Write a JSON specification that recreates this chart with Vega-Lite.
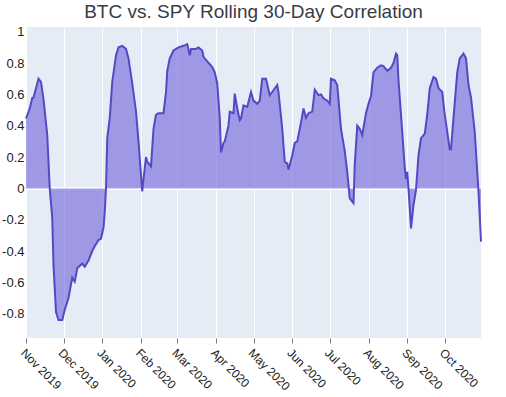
{
  "$schema": "https://vega.github.io/schema/vega-lite/v6.json",
  "width": 455,
  "height": 311,
  "autosize": {"type": "none"},
  "padding": {"left": 26, "top": 27, "right": 25, "bottom": 59},
  "background": "white",
  "title": {"text": "BTC vs. SPY Rolling 30-Day Correlation", "fontSize": 19, "font": "Liberation Sans", "fontWeight": "normal", "color": "#3a3a48", "offset": 4, "anchor": "middle"},
  "config": {
    "view": {"fill": "#E5ECF6", "stroke": null},
    "axis": {"domain": false, "gridColor": "white", "gridWidth": 1, "labelFont": "Liberation Sans", "labelColor": "#222", "title": null, "labelOverlap": false}
  },
  "data": {"values": [
    {"date": "2019-11-01", "corr": 0.446},
    {"date": "2019-11-04", "corr": 0.51},
    {"date": "2019-11-06", "corr": 0.577},
    {"date": "2019-11-07", "corr": 0.58},
    {"date": "2019-11-10", "corr": 0.67},
    {"date": "2019-11-11", "corr": 0.70},
    {"date": "2019-11-13", "corr": 0.68},
    {"date": "2019-11-15", "corr": 0.57},
    {"date": "2019-11-18", "corr": 0.34},
    {"date": "2019-11-20", "corr": 0.0},
    {"date": "2019-11-22", "corr": -0.19},
    {"date": "2019-11-23", "corr": -0.49},
    {"date": "2019-11-25", "corr": -0.79},
    {"date": "2019-11-27", "corr": -0.84},
    {"date": "2019-11-30", "corr": -0.84},
    {"date": "2019-12-02", "corr": -0.775},
    {"date": "2019-12-05", "corr": -0.70},
    {"date": "2019-12-08", "corr": -0.57},
    {"date": "2019-12-10", "corr": -0.595},
    {"date": "2019-12-12", "corr": -0.51},
    {"date": "2019-12-16", "corr": -0.48},
    {"date": "2019-12-18", "corr": -0.50},
    {"date": "2019-12-21", "corr": -0.46},
    {"date": "2019-12-24", "corr": -0.40},
    {"date": "2019-12-26", "corr": -0.37},
    {"date": "2019-12-29", "corr": -0.33},
    {"date": "2019-12-31", "corr": -0.32},
    {"date": "2020-01-02", "corr": -0.25},
    {"date": "2020-01-03", "corr": -0.15},
    {"date": "2020-01-04", "corr": 0.0},
    {"date": "2020-01-05", "corr": 0.32},
    {"date": "2020-01-07", "corr": 0.45},
    {"date": "2020-01-09", "corr": 0.68},
    {"date": "2020-01-12", "corr": 0.85},
    {"date": "2020-01-14", "corr": 0.90},
    {"date": "2020-01-17", "corr": 0.91},
    {"date": "2020-01-20", "corr": 0.89},
    {"date": "2020-01-22", "corr": 0.83},
    {"date": "2020-01-25", "corr": 0.67},
    {"date": "2020-01-28", "corr": 0.49},
    {"date": "2020-01-30", "corr": 0.30},
    {"date": "2020-02-02", "corr": -0.02},
    {"date": "2020-02-03", "corr": 0.06},
    {"date": "2020-02-05", "corr": 0.20},
    {"date": "2020-02-06", "corr": 0.17},
    {"date": "2020-02-09", "corr": 0.14},
    {"date": "2020-02-11", "corr": 0.38},
    {"date": "2020-02-13", "corr": 0.47},
    {"date": "2020-02-15", "corr": 0.48},
    {"date": "2020-02-19", "corr": 0.48},
    {"date": "2020-02-21", "corr": 0.615},
    {"date": "2020-02-22", "corr": 0.75},
    {"date": "2020-02-24", "corr": 0.83},
    {"date": "2020-02-27", "corr": 0.88},
    {"date": "2020-03-02", "corr": 0.90},
    {"date": "2020-03-06", "corr": 0.91},
    {"date": "2020-03-09", "corr": 0.92},
    {"date": "2020-03-11", "corr": 0.85},
    {"date": "2020-03-12", "corr": 0.89},
    {"date": "2020-03-16", "corr": 0.89},
    {"date": "2020-03-18", "corr": 0.90},
    {"date": "2020-03-21", "corr": 0.88},
    {"date": "2020-03-22", "corr": 0.84},
    {"date": "2020-03-25", "corr": 0.81},
    {"date": "2020-03-29", "corr": 0.775},
    {"date": "2020-03-31", "corr": 0.74},
    {"date": "2020-04-02", "corr": 0.67},
    {"date": "2020-04-04", "corr": 0.45},
    {"date": "2020-04-05", "corr": 0.23},
    {"date": "2020-04-07", "corr": 0.29},
    {"date": "2020-04-08", "corr": 0.30},
    {"date": "2020-04-11", "corr": 0.40},
    {"date": "2020-04-12", "corr": 0.49},
    {"date": "2020-04-15", "corr": 0.48},
    {"date": "2020-04-16", "corr": 0.605},
    {"date": "2020-04-18", "corr": 0.51},
    {"date": "2020-04-20", "corr": 0.435},
    {"date": "2020-04-21", "corr": 0.446},
    {"date": "2020-04-23", "corr": 0.53},
    {"date": "2020-04-26", "corr": 0.52},
    {"date": "2020-04-29", "corr": 0.615},
    {"date": "2020-05-01", "corr": 0.56},
    {"date": "2020-05-04", "corr": 0.54},
    {"date": "2020-05-06", "corr": 0.56},
    {"date": "2020-05-08", "corr": 0.70},
    {"date": "2020-05-11", "corr": 0.70},
    {"date": "2020-05-14", "corr": 0.595},
    {"date": "2020-05-16", "corr": 0.615},
    {"date": "2020-05-20", "corr": 0.66},
    {"date": "2020-05-21", "corr": 0.615},
    {"date": "2020-05-24", "corr": 0.38},
    {"date": "2020-05-26", "corr": 0.17},
    {"date": "2020-05-28", "corr": 0.16},
    {"date": "2020-05-29", "corr": 0.12},
    {"date": "2020-06-01", "corr": 0.21},
    {"date": "2020-06-03", "corr": 0.29},
    {"date": "2020-06-05", "corr": 0.30},
    {"date": "2020-06-08", "corr": 0.42},
    {"date": "2020-06-10", "corr": 0.51},
    {"date": "2020-06-12", "corr": 0.45},
    {"date": "2020-06-14", "corr": 0.48},
    {"date": "2020-06-17", "corr": 0.49},
    {"date": "2020-06-19", "corr": 0.63},
    {"date": "2020-06-22", "corr": 0.595},
    {"date": "2020-06-24", "corr": 0.60},
    {"date": "2020-06-26", "corr": 0.575},
    {"date": "2020-06-29", "corr": 0.56},
    {"date": "2020-07-01", "corr": 0.54},
    {"date": "2020-07-02", "corr": 0.70},
    {"date": "2020-07-05", "corr": 0.69},
    {"date": "2020-07-07", "corr": 0.66},
    {"date": "2020-07-10", "corr": 0.38},
    {"date": "2020-07-13", "corr": 0.24},
    {"date": "2020-07-15", "corr": 0.105},
    {"date": "2020-07-17", "corr": -0.064},
    {"date": "2020-07-20", "corr": -0.095},
    {"date": "2020-07-21", "corr": 0.15},
    {"date": "2020-07-23", "corr": 0.40},
    {"date": "2020-07-25", "corr": 0.38},
    {"date": "2020-07-27", "corr": 0.34},
    {"date": "2020-07-30", "corr": 0.48},
    {"date": "2020-08-01", "corr": 0.54},
    {"date": "2020-08-03", "corr": 0.59},
    {"date": "2020-08-05", "corr": 0.74},
    {"date": "2020-08-08", "corr": 0.77},
    {"date": "2020-08-11", "corr": 0.785},
    {"date": "2020-08-13", "corr": 0.78},
    {"date": "2020-08-16", "corr": 0.75},
    {"date": "2020-08-19", "corr": 0.77},
    {"date": "2020-08-21", "corr": 0.80},
    {"date": "2020-08-23", "corr": 0.86},
    {"date": "2020-08-24", "corr": 0.85},
    {"date": "2020-08-25", "corr": 0.69},
    {"date": "2020-08-28", "corr": 0.36},
    {"date": "2020-08-30", "corr": 0.13},
    {"date": "2020-08-31", "corr": 0.06},
    {"date": "2020-09-01", "corr": 0.105},
    {"date": "2020-09-02", "corr": 0.0},
    {"date": "2020-09-04", "corr": -0.255},
    {"date": "2020-09-06", "corr": -0.106},
    {"date": "2020-09-08", "corr": -0.01},
    {"date": "2020-09-10", "corr": 0.21},
    {"date": "2020-09-12", "corr": 0.32},
    {"date": "2020-09-15", "corr": 0.35},
    {"date": "2020-09-17", "corr": 0.47},
    {"date": "2020-09-19", "corr": 0.64},
    {"date": "2020-09-22", "corr": 0.71},
    {"date": "2020-09-24", "corr": 0.70},
    {"date": "2020-09-26", "corr": 0.64},
    {"date": "2020-09-29", "corr": 0.615},
    {"date": "2020-10-01", "corr": 0.47},
    {"date": "2020-10-03", "corr": 0.36},
    {"date": "2020-10-05", "corr": 0.25},
    {"date": "2020-10-06", "corr": 0.25},
    {"date": "2020-10-08", "corr": 0.45},
    {"date": "2020-10-11", "corr": 0.74},
    {"date": "2020-10-13", "corr": 0.83},
    {"date": "2020-10-16", "corr": 0.86},
    {"date": "2020-10-18", "corr": 0.83},
    {"date": "2020-10-20", "corr": 0.66},
    {"date": "2020-10-22", "corr": 0.58},
    {"date": "2020-10-25", "corr": 0.36},
    {"date": "2020-10-28", "corr": -0.02},
    {"date": "2020-10-30", "corr": -0.34}
  ]},
  "layer": [
    {
      "mark": {"type": "rule", "color": "white", "strokeWidth": 2},
      "encoding": {
        "y": {
          "datum": 0, "type": "quantitative",
          "scale": {"domain": [-0.955, 1.03], "nice": false, "zero": false},
          "axis": {"values": [-0.8, -0.6, -0.4, -0.2, 0, 0.2, 0.4, 0.6, 0.8, 1], "tickCount": 12, "format": ".1~f", "labelExpr": "replace(datum.label, '\u2212', '-')", "ticks": false, "labelFontSize": 13, "labelPadding": 2, "labelOverlap": false}
        }
      }
    },
    {
      "mark": {"type": "area", "color": "#6F60DB", "opacity": 0.6},
      "encoding": {
        "x": {
          "field": "date", "type": "temporal",
          "scale": {"type": "utc"},
          "axis": {"format": "%b %Y", "tickCount": {"interval": "month", "step": 1}, "labelAngle": 45, "labelAlign": "left", "labelBaseline": "top", "labelFontSize": 12, "labelPadding": 4, "ticks": true, "tickColor": "#777", "tickSize": 5}
        },
        "y": {
          "field": "corr", "type": "quantitative",
          "axis": {"values": [-0.8, -0.6, -0.4, -0.2, 0, 0.2, 0.4, 0.6, 0.8, 1], "tickCount": 12, "format": ".1~f", "labelExpr": "replace(datum.label, '\u2212', '-')", "ticks": false, "labelFontSize": 13, "labelPadding": 2, "labelOverlap": false}
        },
        "y2": {"datum": 0}
      }
    },
    {
      "mark": {"type": "line", "color": "#5548C4", "strokeWidth": 2},
      "encoding": {
        "x": {"field": "date", "type": "temporal", "scale": {"type": "utc"}},
        "y": {"field": "corr", "type": "quantitative"}
      }
    }
  ]
}
